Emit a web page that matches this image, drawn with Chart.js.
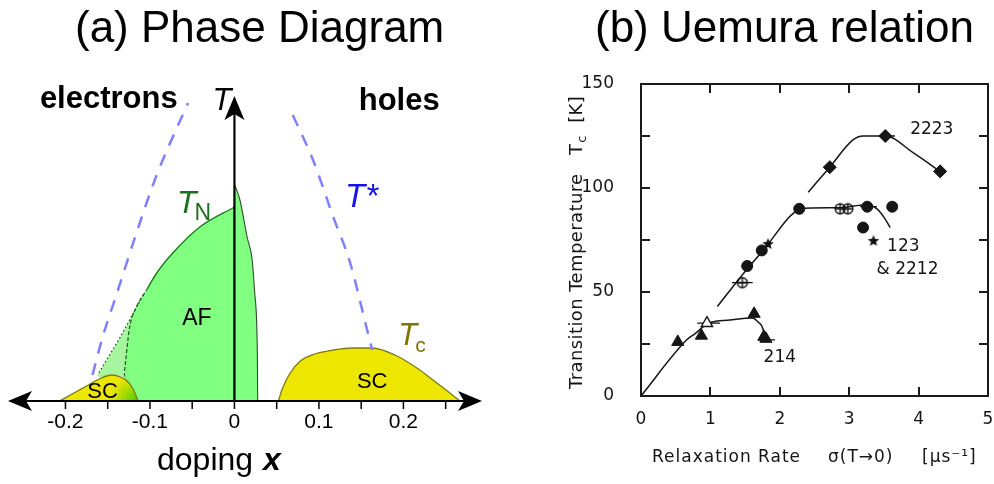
<!DOCTYPE html>
<html lang="en">
<head>
<meta charset="UTF-8">
<title>Cuprate phase diagram and Uemura relation</title>
<script src="https://cdn.jsdelivr.net/npm/chart.js"></script>
<style>
  body { margin: 0; background: #fff; font-family: "Liberation Sans", Arial, sans-serif; }
  .page { position: relative; width: 994px; height: 484px; overflow: hidden; }
  .panel-title { position: absolute; top: 2px; font-size: 44px; line-height: 50px; color: #000; white-space: nowrap; }
  #phaseChart { position: absolute; left: 0; top: 0; }
  #uemuraChart { position: absolute; left: 560px; top: 0; }
  .frame-line { position: absolute; background: #1a1a1a; pointer-events: none; }
</style>
</head>
<body>
<div class="page" id="page">
  <canvas id="phaseChart" width="500" height="484"></canvas>
  <canvas id="uemuraChart" width="434" height="484"></canvas>
  <div class="panel-title" style="left:75px">(a) Phase Diagram</div>
  <div class="panel-title" style="left:595px">(b) Uemura relation</div>
</div>

<script>
// ---------- (a) phase diagram: doping x vs temperature (arbitrary units) ----------
const dopingTicks = [-0.2, -0.15, -0.1, -0.05, 0, 0.05, 0.1, 0.15, 0.2, 0.25];
const dopingLabels = [-0.2, -0.1, 0, 0.1, 0.2];

// Neel line, electron side (solid from index 5 up, dashed below)
const afElecX = [-0.132, -0.131, -0.128, -0.124, -0.116, -0.104, -0.092, -0.073, -0.041, 0];
const afElecT = [0, 19, 46, 74, 94, 111, 128, 148, 174, 194];
const afElecSolidFrom = 5;
// Neel line, hole side
const afHoleX = [0, 0.0065, 0.015, 0.021, 0.024, 0.0265, 0.0272, 0.0275];
const afHoleT = [217, 201, 164, 141, 108, 74, 40, 0];
// dotted crossover edge of the short-range AF region
const afEdgeX = [-0.108, -0.135, -0.162];
const afEdgeT = [106, 64, 26];
// superconducting domes
const scElecX = [-0.207, -0.19, -0.175, -0.16, -0.145, -0.135, -0.127, -0.12, -0.114];
const scElecT = [0, 8, 15, 22, 26, 24, 20, 12, 0];
const scHoleX = [0.052, 0.057, 0.066, 0.078, 0.095, 0.117, 0.14, 0.163, 0.19, 0.216, 0.235, 0.252, 0.267];
const scHoleT = [0, 13, 28, 40, 47, 51, 53, 53, 46, 33, 21, 10, 0];
// pseudogap T*
const tStarElecX = [-0.168, -0.156, -0.139, -0.116, -0.092, -0.055];
const tStarElecT = [26, 64, 108, 168, 226, 298];
const tStarHoleX = [0.069, 0.093, 0.117, 0.137, 0.155, 0.163];
const tStarHoleT = [286, 241, 184, 138, 78, 51];

// ---------- (b) Uemura plot: sigma(T->0) [1/us] vs Tc [K] ----------
const sigmaTicks = [1, 2, 3, 4];
const tcTicks = [25, 50, 75, 100, 125];

const tri214X = [0.53, 0.87, 1.63, 1.77, 1.8];
const tri214Y = [26, 29, 39.5, 28.5, 27.5];
const openTriX = [0.95];
const openTriY = [35];
const circleX = [1.53, 1.74, 2.28, 3.26, 3.62, 3.2];
const circleY = [62.5, 70, 90, 91, 91, 81];
const crossCircleX = [1.46, 2.87, 2.98];
const crossCircleY = [54.5, 90, 90];
const starX = [1.83, 3.35];
const starY = [73, 74.5];
const diamondX = [2.72, 3.52, 4.31];
const diamondY = [110, 125, 108];

const curve214X = [0, 0.66, 0.78, 0.97, 1.28, 1.6, 1.69, 1.76, 1.78];
const curve214Y = [0, 27, 30, 35, 36.5, 37.5, 35.5, 32, 28];
const curve123X = [1.1, 1.43, 1.83, 2.12, 2.22, 2.28, 2.83, 3.26, 3.4, 3.5, 3.59];
const curve123Y = [43, 57, 73, 85.5, 88.5, 90, 90.5, 92, 90, 86, 81];
const curve2223X = [2.41, 2.72, 3.05, 3.2, 3.52, 3.92, 4.31];
const curve2223Y = [98, 110, 123, 125, 125, 117, 108];

// horizontal error bars
const errY = [35, 27, 54.5, 91, 125];
const errLo = [0.81, 1.69, 1.31, 3.16, 3.44];
const errHi = [1.14, 1.93, 1.61, 3.4, 3.66];

const zip = (xs, ys) => xs.map((x, i) => ({ x: x, y: ys[i] }));

// ----- phase diagram -----
function arrowHead(ctx, tx, ty, dx, dy) {
  const len = 24, half = 10, notch = 18;
  const nx = -dy, ny = dx;
  ctx.beginPath();
  ctx.moveTo(tx, ty);
  ctx.lineTo(tx - dx * len + nx * half, ty - dy * len + ny * half);
  ctx.lineTo(tx - dx * notch, ty - dy * notch);
  ctx.lineTo(tx - dx * len - nx * half, ty - dy * len - ny * half);
  ctx.closePath();
  ctx.fill();
}

const phaseAxes = {
  id: 'phaseAxes',
  afterDatasetsDraw(chart) {
    const { ctx, chartArea: a, scales: { x, y } } = chart;
    const y0 = y.getPixelForValue(0);
    const x0 = x.getPixelForValue(0);
    const px = v => x.getPixelForValue(v);
    const py = v => y.getPixelForValue(v);
    ctx.save();
    ctx.setLineDash([]);
    ctx.fillStyle = '#000';
    ctx.strokeStyle = '#000';

    // doping axis, arrows both ways
    ctx.lineWidth = 2.2;
    ctx.beginPath();
    ctx.moveTo(a.left + 12, y0);
    ctx.lineTo(a.right - 12, y0);
    ctx.stroke();
    arrowHead(ctx, a.right, y0, 1, 0);
    arrowHead(ctx, a.left, y0, -1, 0);

    // temperature axis
    ctx.beginPath();
    ctx.moveTo(x0, y0);
    ctx.lineTo(x0, 110);
    ctx.stroke();
    arrowHead(ctx, x0, 96, 0, -1);

    ctx.lineWidth = 1.5;
    dopingTicks.forEach(v => {
      ctx.beginPath();
      ctx.moveTo(px(v), y0);
      ctx.lineTo(px(v), y0 + 8);
      ctx.stroke();
    });

    ctx.textBaseline = 'alphabetic';
    ctx.textAlign = 'center';
    ctx.font = '21px "Liberation Sans", Arial, sans-serif';
    dopingLabels.forEach(v => ctx.fillText(String(v), px(v), y0 + 27));

    // axis title: doping x
    ctx.textAlign = 'left';
    ctx.font = '32px "Liberation Sans", Arial, sans-serif';
    ctx.fillText('doping', 157, y0 + 69);
    ctx.font = 'italic bold 32px "Liberation Sans", Arial, sans-serif';
    ctx.fillText('x', 263, y0 + 69);

    // region and carrier labels
    ctx.textAlign = 'center';
    ctx.font = 'bold 31px "Liberation Sans", Arial, sans-serif';
    ctx.fillText('electrons', px(-0.1487), py(293));
    ctx.fillText('holes', px(0.195), py(291));
    ctx.font = 'italic 31px "Liberation Sans", Arial, sans-serif';
    ctx.fillText('T', px(-0.0148), py(291));

    ctx.font = '23px "Liberation Sans", Arial, sans-serif';
    ctx.fillText('AF', px(-0.0444), py(76));
    ctx.font = '22px "Liberation Sans", Arial, sans-serif';
    ctx.fillText('SC', px(-0.156), py(3));
    ctx.fillText('SC', px(0.163), py(13));

    // T_N (green)
    ctx.textAlign = 'left';
    ctx.fillStyle = '#1d701d';
    ctx.font = 'italic 32px "Liberation Sans", Arial, sans-serif';
    ctx.fillText('T', px(-0.068), py(188));
    let w = ctx.measureText('T').width;
    ctx.font = '23px "Liberation Sans", Arial, sans-serif';
    ctx.fillText('N', px(-0.068) + w - 2, py(181));

    // T* (blue)
    ctx.fillStyle = '#1414e6';
    ctx.font = 'italic 33px "Liberation Sans", Arial, sans-serif';
    ctx.fillText('T*', px(0.131), py(194));

    // T_c (olive)
    ctx.fillStyle = '#827400';
    ctx.font = 'italic 31px "Liberation Sans", Arial, sans-serif';
    ctx.fillText('T', px(0.194), py(56));
    w = ctx.measureText('T').width;
    ctx.font = '21px "Liberation Sans", Arial, sans-serif';
    ctx.fillText('c', px(0.194) + w - 2, py(49));
    ctx.restore();
  }
};

const afElecPts = zip(afElecX, afElecT);

new Chart(document.getElementById('phaseChart'), {
  type: 'line',
  data: {
    datasets: [
      {
        data: zip(tStarElecX, tStarElecT),
        borderColor: '#8080ff', borderWidth: 2.5, borderDash: [12, 10],
        cubicInterpolationMode: 'monotone', fill: false, order: 0
      },
      {
        data: zip(tStarHoleX, tStarHoleT),
        borderColor: '#8080ff', borderWidth: 2.5, borderDash: [12, 10],
        cubicInterpolationMode: 'monotone', fill: false, order: 0
      },
      {
        data: zip(afEdgeX, afEdgeT),
        borderColor: '#1d5a1d', borderWidth: 1.3, borderDash: [1.5, 2.5],
        fill: false, order: 1
      },
      {
        data: zip(scElecX, scElecT),
        borderColor: '#7d7a1a', borderWidth: 1.3,
        backgroundColor(c) {
          const ch = c.chart;
          if (!ch.chartArea) return '#ece600';
          const gx = ch.scales.x.getPixelForValue(-0.117);
          const gy = ch.scales.y.getPixelForValue(0);
          const g = ch.ctx.createRadialGradient(gx, gy, 0, gx, gy, 26);
          g.addColorStop(0, '#4ccc00');
          g.addColorStop(0.5, '#a6da00');
          g.addColorStop(1, '#ece600');
          return g;
        },
        cubicInterpolationMode: 'monotone', fill: 'origin', order: 2
      },
      {
        data: zip(scHoleX, scHoleT),
        borderColor: '#7d7a1a', borderWidth: 1.3, backgroundColor: '#ece600',
        cubicInterpolationMode: 'monotone', fill: 'origin', order: 2
      },
      {
        // Neel line: solid upper part
        data: afElecPts.slice(afElecSolidFrom),
        borderColor: '#1e781e', borderWidth: 1.4,
        cubicInterpolationMode: 'monotone', fill: false, order: 3
      },
      {
        // Neel line: dashed lower part
        data: afElecPts.slice(0, afElecSolidFrom + 1),
        borderColor: '#1e5a1e', borderWidth: 1.2, borderDash: [4, 2],
        cubicInterpolationMode: 'monotone', fill: false, order: 3
      },
      {
        data: afElecPts,
        borderWidth: 0, borderColor: 'rgba(0,0,0,0)', backgroundColor: '#80ff80',
        cubicInterpolationMode: 'monotone', fill: 'origin', order: 4
      },
      {
        data: zip(afHoleX, afHoleT),
        borderColor: '#2d4f2d', borderWidth: 1.1, backgroundColor: '#80ff80',
        cubicInterpolationMode: 'monotone', fill: 'origin', order: 4
      },
      {
        // short-range AF wedge, tucked under the dome and the AF fill
        data: zip(afEdgeX, afEdgeT).concat([{ x: -0.14, y: 0 }]),
        borderWidth: 0, borderColor: 'rgba(0,0,0,0)', backgroundColor: '#a8f5a0',
        fill: 'shape', order: 5
      }
    ]
  },
  options: {
    responsive: false,
    animation: false,
    layout: { autoPadding: false, padding: { left: 8, right: 18, top: 60, bottom: 83 } },
    scales: {
      x: { type: 'linear', min: -0.268, max: 0.293, display: false },
      y: { type: 'linear', min: 0, max: 341, display: false }
    },
    elements: { point: { radius: 0 } },
    plugins: { legend: { display: false }, tooltip: { enabled: false } }
  },
  plugins: [phaseAxes]
});

// ----- Uemura plot -----
function starMarker(r) {
  const c = document.createElement('canvas');
  c.width = c.height = 2 * r + 2;
  const g = c.getContext('2d');
  g.fillStyle = '#111';
  g.beginPath();
  for (let i = 0; i < 10; i++) {
    const ang = -Math.PI / 2 + i * Math.PI / 5;
    const rr = i % 2 ? r * 0.45 : r;
    g.lineTo(r + 1 + rr * Math.cos(ang), r + 1 + rr * Math.sin(ang));
  }
  g.closePath();
  g.fill();
  return c;
}

function crossedCircleMarker(r) {
  const c = document.createElement('canvas');
  c.width = c.height = 2 * r + 4;
  const g = c.getContext('2d');
  const m = r + 2;
  g.strokeStyle = '#111';
  g.lineWidth = 1.4;
  g.beginPath();
  g.arc(m, m, r, 0, Math.PI * 2);
  g.moveTo(m - r, m); g.lineTo(m + r, m);
  g.moveTo(m, m - r); g.lineTo(m, m + r);
  g.stroke();
  return c;
}

const errPts = [];
errY.forEach((v, i) => {
  errPts.push({ x: errLo[i], y: v }, { x: errHi[i], y: v }, { x: errHi[i], y: null });
});

const uemuraFont = '"DejaVu Sans", Verdana, sans-serif';
const ink = '#151515';

const uemuraText = {
  id: 'uemuraText',
  afterDatasetsDraw(chart) {
    const { ctx, chartArea: a, scales: { x, y } } = chart;
    ctx.save();
    ctx.fillStyle = ink;

    // series labels
    ctx.textAlign = 'center';
    ctx.textBaseline = 'middle';
    ctx.font = '17px ' + uemuraFont;
    ctx.fillText('2223', x.getPixelForValue(4.19), y.getPixelForValue(128));
    ctx.fillText('123', x.getPixelForValue(3.78), y.getPixelForValue(72));
    ctx.fillText('& 2212', x.getPixelForValue(3.84), y.getPixelForValue(61));
    ctx.fillText('214', x.getPixelForValue(2.0), y.getPixelForValue(18.3));

    // horizontal axis title, widely tracked
    ctx.textAlign = 'left';
    ctx.letterSpacing = '1px';
    const ty = a.bottom + 62;
    ctx.fillText('Relaxation Rate', a.left + 11, ty);
    ctx.fillText('σ(T→0)', a.left + 187, ty);
    ctx.fillText('[μs⁻¹]', a.left + 281, ty);

    // vertical axis title with subscript
    ctx.letterSpacing = '0.4px';
    ctx.translate(a.left - 64, 389);
    ctx.rotate(-Math.PI / 2);
    ctx.font = '18px ' + uemuraFont;
    const head = 'Transition Temperature   T';
    ctx.fillText(head, 0, 0);
    let w = ctx.measureText(head).width;
    ctx.font = '13px ' + uemuraFont;
    ctx.fillText('c', w + 1, 6);
    w += ctx.measureText('c').width + 1;
    ctx.font = '18px ' + uemuraFont;
    ctx.fillText('  [K]', w, 0);
    ctx.restore();
  }
};

const uemuraCanvas = document.getElementById('uemuraChart');
const uemura = new Chart(uemuraCanvas, {
  type: 'scatter',
  data: {
    datasets: [
      { data: zip(diamondX, diamondY), pointStyle: 'rectRot', pointRadius: 6.5, backgroundColor: ink, borderColor: ink },
      { data: zip(circleX, circleY), pointStyle: 'circle', pointRadius: 5.5, backgroundColor: ink, borderColor: ink },
      { data: zip(crossCircleX, crossCircleY), pointStyle: crossedCircleMarker(5), pointRadius: 6 },
      { data: zip(starX, starY), pointStyle: starMarker(6), pointRadius: 6 },
      { data: zip(tri214X, tri214Y), pointStyle: 'triangle', pointRadius: 7, backgroundColor: ink, borderColor: ink },
      { data: zip(openTriX, openTriY), pointStyle: 'triangle', pointRadius: 6.5, backgroundColor: '#fff', borderColor: ink, borderWidth: 1.4 },
      { data: errPts, showLine: true, pointRadius: 0, borderColor: ink, borderWidth: 1.3 },
      { data: zip(curve214X, curve214Y), showLine: true, pointRadius: 0, borderColor: ink, borderWidth: 1.5, cubicInterpolationMode: 'monotone' },
      { data: zip(curve123X, curve123Y), showLine: true, pointRadius: 0, borderColor: ink, borderWidth: 1.5, cubicInterpolationMode: 'monotone' },
      { data: zip(curve2223X, curve2223Y), showLine: true, pointRadius: 0, borderColor: ink, borderWidth: 1.5, cubicInterpolationMode: 'monotone' }
    ]
  },
  options: {
    responsive: false,
    animation: false,
    layout: { autoPadding: false, padding: { top: 84, right: 6, left: 0, bottom: 0 } },
    scales: {
      x: {
        type: 'linear', min: 0, max: 5,
        border: { display: false },
        grid: { display: false },
        ticks: { stepSize: 1, padding: 5, color: ink, font: { family: 'DejaVu Sans', size: 17 } },
        afterFit(s) { s.height = 88; s.paddingLeft = 0; s.paddingRight = 0; }
      },
      y: {
        type: 'linear', min: 0, max: 150,
        border: { display: false },
        grid: { display: false },
        ticks: {
          stepSize: 25, padding: 19, color: ink,
          font: { family: 'DejaVu Sans', size: 17 },
          callback: v => (v % 50 === 0 ? v : '')
        },
        afterFit(s) { s.width = 81; s.paddingTop = 0; s.paddingBottom = 0; }
      }
    },
    plugins: { legend: { display: false }, tooltip: { enabled: false } }
  },
  plugins: [uemuraText]
});

// plot frame and inward tick marks, placed from the chart's own scales
(function addFrame(chart) {
  const page = document.getElementById('page');
  const off = uemuraCanvas.offsetLeft;
  const a = chart.chartArea;
  const xs = chart.scales.x, ys = chart.scales.y;
  const line = (left, top, width, height) => {
    const d = document.createElement('div');
    d.className = 'frame-line';
    d.style.left = left + 'px';
    d.style.top = top + 'px';
    d.style.width = width + 'px';
    d.style.height = height + 'px';
    page.appendChild(d);
  };
  const L = Math.round(off + a.left), R = Math.round(off + a.right);
  const T = Math.round(a.top), B = Math.round(a.bottom);
  line(L - 1, T - 1, R - L + 2, 2);
  line(L - 1, B - 1, R - L + 2, 2);
  line(L - 1, T - 1, 2, B - T + 2);
  line(R - 1, T - 1, 2, B - T + 2);
  sigmaTicks.forEach(v => {
    const p = Math.round(off + xs.getPixelForValue(v));
    line(p - 1, B - 9, 1.5, 9);
    line(p - 1, T, 1.5, 9);
  });
  tcTicks.forEach(v => {
    const p = Math.round(ys.getPixelForValue(v));
    line(L, p - 1, 9, 1.5);
    line(R - 9, p - 1, 9, 1.5);
  });
})(uemura);
</script>
</body>
</html>
